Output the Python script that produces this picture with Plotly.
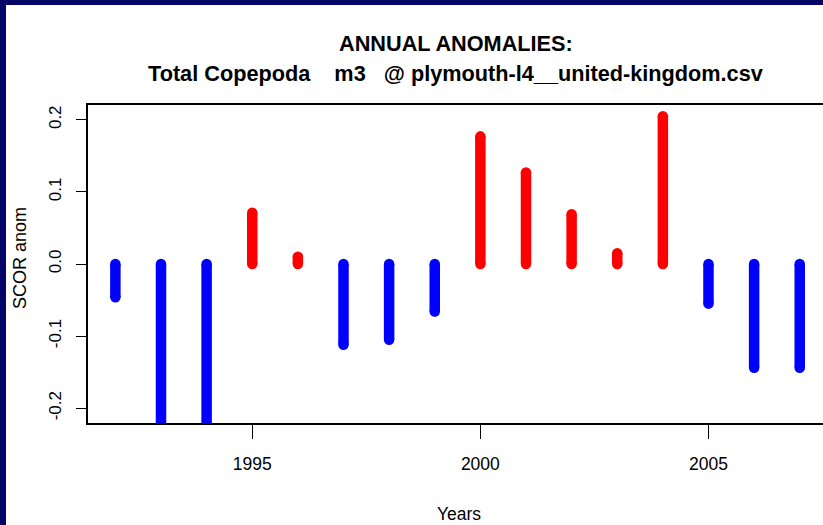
import plotly.graph_objects as go

# annual anomalies
years = list(range(1992, 2008))
anom = [-0.046, -0.25, -0.25, 0.071, 0.010, -0.112, -0.105, -0.066,
        0.177, 0.127, 0.069, 0.015, 0.205, -0.055, -0.144, -0.144]
x_ticks = [1995, 2000, 2005]
y_ticks = [-0.2, -0.1, 0.0, 0.1, 0.2]
y_tick_labels = ["-0.2", "-0.1", "0.0", "0.1", "0.2"]

W, H = 823, 525
L, R, T, B = 88, 0, 105, 102
FONT = "Liberation Sans, Arial, sans-serif"
NAVY = "#050566"


def px_x(p):
    return (p - L) / (W - L - R)


def px_y(p):
    return (H - B - p) / (H - T - B)


def stems(sign):
    xs, ys = [], []
    for yr, v in zip(years, anom):
        if (v > 0) == sign:
            xs += [yr, yr, None]
            ys += [0, v, None]
    return xs, ys


fig = go.Figure()
for sign, col in [(True, "#FF0000"), (False, "#0000FF")]:
    xs, ys = stems(sign)
    fig.add_trace(go.Scatter(
        x=xs, y=ys, mode="lines+markers",
        line=dict(color=col, width=10.5),
        marker=dict(color=col, size=10.5, line=dict(width=0)),
        showlegend=False, hoverinfo="skip",
    ))

ann = [
    dict(text="<b>ANNUAL ANOMALIES:</b>", x=0.5, y=px_y(43), size=21.7),
    dict(text="<b>Total Copepoda    m3   @ plymouth-l4__united-kingdom.csv</b>",
         x=0.5, y=px_y(73), size=21.7),
    dict(text="Years", x=px_x(459), y=px_y(514), size=17.5),
]
annotations = [
    dict(text=a["text"], x=a["x"], y=a["y"], xref="paper", yref="paper",
         xanchor="center", yanchor="middle", showarrow=False,
         font=dict(family=FONT, size=a["size"], color="black"))
    for a in ann
]
annotations.append(dict(
    text="SCOR anom", x=px_x(20), y=px_y(258), xref="paper", yref="paper",
    xanchor="center", yanchor="middle", showarrow=False, textangle=-90,
    font=dict(family=FONT, size=18, color="black"),
))

fig.update_layout(
    width=W, height=H,
    margin=dict(l=L, r=R, t=T, b=B),
    paper_bgcolor="white",
    plot_bgcolor="white",
    xaxis=dict(
        range=[1991.4, 2007.51],
        tickvals=x_ticks,
        ticks="outside", ticklen=14, tickwidth=1, tickcolor="black",
        showline=True, linecolor="black", linewidth=1.5, mirror=True,
        showgrid=False, zeroline=False,
        tickfont=dict(family=FONT, size=17.5, color="black"),
        ticklabelstandoff=10,
    ),
    yaxis=dict(
        range=[-0.2205, 0.2205],
        tickvals=y_ticks, ticktext=y_tick_labels, tickangle=-90,
        ticks="outside", ticklen=10, tickwidth=1, tickcolor="black",
        showline=True, linecolor="black", linewidth=1.5, mirror=False,
        showgrid=False, zeroline=False,
        tickfont=dict(family=FONT, size=17, color="black"),
        ticklabelstandoff=8,
    ),
    annotations=annotations,
    shapes=[
        dict(type="rect", xref="paper", yref="paper", layer="above",
             x0=px_x(0), x1=1.0, y0=px_y(5), y1=px_y(0),
             fillcolor=NAVY, line=dict(width=0)),
        dict(type="rect", xref="paper", yref="paper", layer="above",
             x0=px_x(0), x1=px_x(6), y0=px_y(H), y1=px_y(0),
             fillcolor=NAVY, line=dict(width=0)),
    ],
)

fig.write_html(
    "out.html",
    config={"displayModeBar": False},
    post_script="document.body.style.margin='0';document.body.style.overflow='hidden';",
)
